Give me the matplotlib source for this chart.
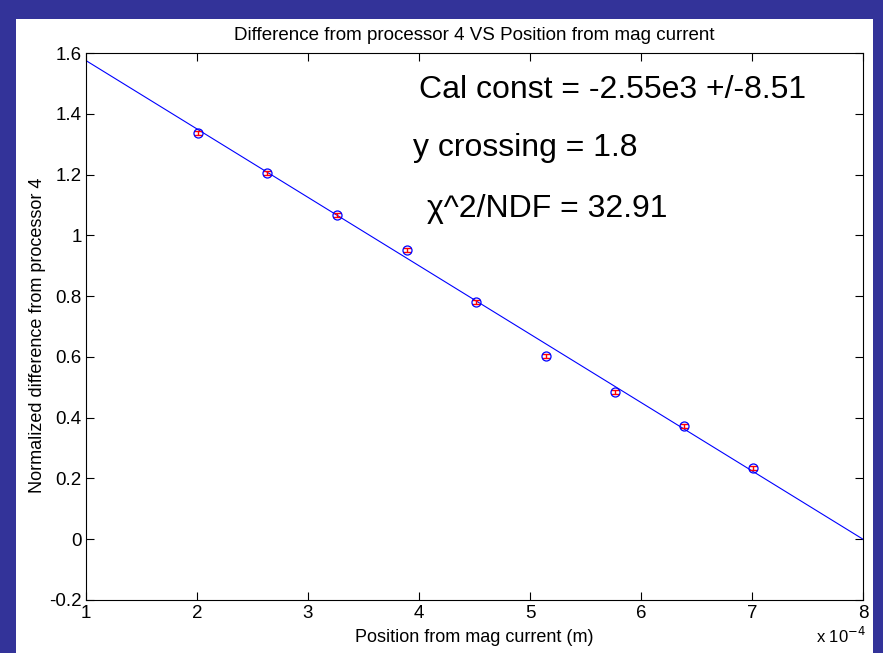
import matplotlib

matplotlib.use("Agg")
import matplotlib.pyplot as plt

plt.rcParams["font.family"] = ["Liberation Sans", "DejaVu Sans"]

# x positions in units of 1e-4 m
position = [2.01, 2.63, 3.26, 3.89, 4.51, 5.14, 5.77, 6.39, 7.01]
norm_diff = [1.337, 1.205, 1.067, 0.952, 0.781, 0.603, 0.485, 0.373, 0.234]
err = [0.006, 0.006, 0.006, 0.006, 0.006, 0.006, 0.006, 0.006, 0.006]

fit_x = [1.0, 8.0]
fit_y = [1.575, 0.0]

fig = plt.figure(figsize=(8.83, 6.53), dpi=100, facecolor="#333399")

# white panel behind the plot
bg = fig.add_axes([16 / 883, 0, (873 - 16) / 883, (653 - 19) / 653], zorder=-10)
bg.set_facecolor("white")
bg.set_xticks([])
bg.set_yticks([])
for s in bg.spines.values():
    s.set_visible(False)

ax = fig.add_axes([86 / 883, 53 / 653, (863 - 86) / 883, (600 - 53) / 653])

ax.plot(fit_x, fit_y, color="#0000ff", lw=0.8)
ax.errorbar(position, norm_diff, yerr=err, fmt="none", ecolor="red",
            elinewidth=1, capsize=3, zorder=3)
ax.plot(position, norm_diff, "o", mfc="none", mec="#0000ff", ms=6.5, mew=0.9, zorder=4)

ax.set_xlim(1, 8)
ax.set_ylim(-0.2, 1.6)
ax.set_xticks(range(1, 9))
ax.set_yticks([-0.2, 0, 0.2, 0.4, 0.6, 0.8, 1, 1.2, 1.4, 1.6])
ax.set_yticklabels(["-0.2", "0", "0.2", "0.4", "0.6", "0.8", "1", "1.2", "1.4", "1.6"])
ax.tick_params(direction="in", top=True, right=True, labelsize=13.5, length=6, width=0.8)
ax.tick_params(axis="y", pad=3)
for s in ax.spines.values():
    s.set_linewidth(0.8)

ax.set_title("Difference from processor 4 VS Position from mag current", fontsize=13.5, pad=9)
ax.set_xlabel("Position from mag current (m)", fontsize=13, labelpad=5)
ax.set_ylabel("Normalized difference from processor 4", fontsize=13)
ax.yaxis.set_label_coords(-0.052, 0.483)

ax.text(4.0, 1.478, "Cal const = -2.55e3 +/-8.51", fontsize=23, va="center")
ax.text(3.95, 1.287, "y crossing = 1.8", fontsize=23, va="center")
ax.text(4.07, 1.087, "\u03c7^2/NDF = 32.91", fontsize=23, va="center")

fig.text(816 / 883, 1 - 636 / 653, r"x 10$^{-4}$", fontsize=12, va="center")

fig.savefig("out.png", dpi=100, facecolor=fig.get_facecolor())
